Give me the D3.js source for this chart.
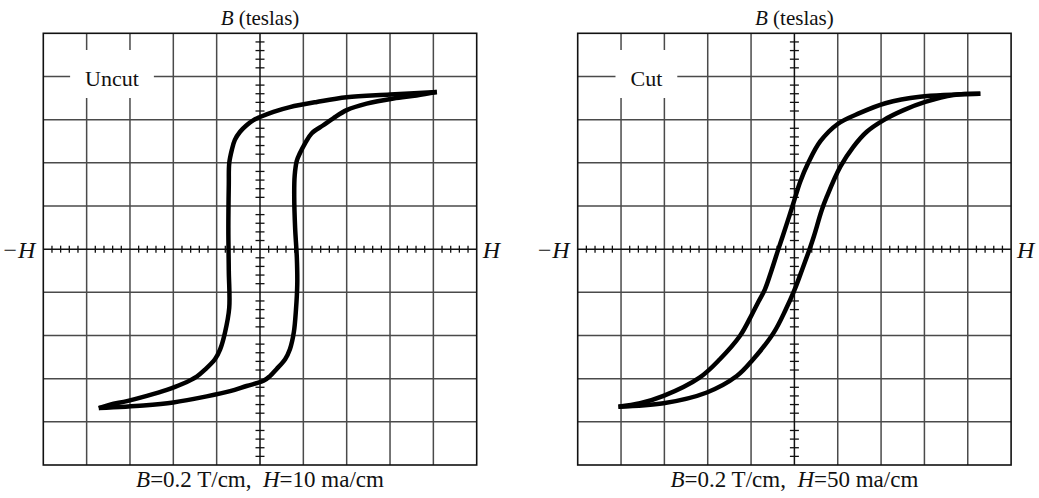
<!DOCTYPE html>
<html><head><meta charset="utf-8">
<script src="https://cdn.jsdelivr.net/npm/d3@7"></script>
<style>
body{margin:0;background:#fff}
svg{display:block}
text{font-family:"Liberation Serif","Times New Roman",serif;fill:#111}
</style>
</head><body>
<svg id="c" width="1039" height="498"></svg>
<script>
// ---- data (H in ma/cm, B in teslas) ----
const panelLabels = ["Uncut", "Cut"];
const hPerDivision = [10, 50];      // ma/cm per division
const bPerDivision = 0.2;           // T per division
const scaleLabels = ["H=10 ma/cm", "H=50 ma/cm"];

const uncutDescH = [40.8,30,20,13.1,6.9,3.1,0,-1.5,-3.1,-4.6,-5.8,-6.5,-7.1,-7.2,-7.3,-7.2,-7.1,-8.1,-9.2,-10.4,-12.7,-14.6,-18.1,-21.5,-26.1,-30.7,-34.6,-37.2];
const uncutDescB = [0.728,0.716,0.704,0.682,0.658,0.636,0.612,0.598,0.574,0.544,0.506,0.46,0.398,0.3,0.1,-0.1,-0.272,-0.388,-0.464,-0.51,-0.558,-0.59,-0.626,-0.652,-0.68,-0.704,-0.72,-0.736];
const uncutAscH = [-37.2,-26.9,-20,-12.3,-6.9,-3.1,0.8,2.3,3.8,5.8,6.9,7.8,8.3,8.6,8.5,8.1,7.9,8.0,8.5,9.2,10.4,11.9,14.6,16.9,20,24.6,30.8,36.1,40.8];
const uncutAscB = [-0.736,-0.724,-0.71,-0.682,-0.658,-0.634,-0.61,-0.588,-0.556,-0.51,-0.464,-0.386,-0.28,-0.16,-0.04,0.1,0.24,0.34,0.41,0.444,0.49,0.536,0.574,0.606,0.644,0.674,0.698,0.712,0.728];

const cutDescH = [214.5,145,105,75,50,30,16,6.5,0,-6,-13.5,-18.5,-26.5,-34,-41.5,-50,-62.5,-86,-109,-151,-178,-203];
const cutDescB = [0.72,0.706,0.676,0.63,0.58,0.5,0.4,0.31,0.228,0.152,0.06,0,-0.1,-0.186,-0.244,-0.31,-0.4,-0.51,-0.594,-0.68,-0.714,-0.73];
const cutAscH = [-203,-151,-101,-66.5,-47.5,-24,-10,0,9,17.5,22.5,31.5,37.5,53,68,83.5,103,126,151,183.5,214.5];
const cutAscB = [-0.73,-0.714,-0.664,-0.588,-0.51,-0.388,-0.28,-0.19,-0.094,0,0.06,0.18,0.244,0.382,0.474,0.544,0.598,0.644,0.682,0.714,0.72];

const branches = [
  [[uncutDescH, uncutDescB], [uncutAscH, uncutAscB]],
  [[cutDescH, cutDescB], [cutAscH, cutAscB]]
];

// ---- layout ----
const svg = d3.select("#c");
const frameLefts = [43.3, 577.7];
const frameW = 433.4, topY = 33.3, bottomY = 465;

frameLefts.forEach((x0, p) => {
  const hd = hPerDivision[p];
  const x = d3.scaleLinear().domain([-5*hd, 5*hd]).range([x0, x0 + frameW]);
  const y = d3.scaleLinear().domain([-5*bPerDivision, 5*bPerDivision]).range([bottomY, topY]);
  const g = svg.append("g");
  const majors = d3.range(-4, 5).filter(i => i !== 0);

  // grid
  g.selectAll(".gv").data(majors).enter().append("line")
    .attr("x1", i => x(i*hd)).attr("x2", i => x(i*hd)).attr("y1", topY).attr("y2", bottomY)
    .attr("stroke", "#4a4a4a").attr("stroke-width", 1.5);
  g.selectAll(".gh").data(majors).enter().append("line")
    .attr("y1", i => y(i*bPerDivision)).attr("y2", i => y(i*bPerDivision)).attr("x1", x0).attr("x2", x0 + frameW)
    .attr("stroke", "#4a4a4a").attr("stroke-width", 1.5);

  // axes
  g.append("line").attr("x1", x(0)).attr("x2", x(0)).attr("y1", topY).attr("y2", bottomY).attr("stroke", "#111").attr("stroke-width", 1.5);
  g.append("line").attr("x1", x0).attr("x2", x0 + frameW).attr("y1", y(0)).attr("y2", y(0)).attr("stroke", "#111").attr("stroke-width", 1.5);
  const minors = d3.range(-25, 26).filter(k => k % 5 !== 0).map(k => k / 5);
  g.selectAll(".th").data(minors).enter().append("line")
    .attr("x1", d => x(d*hd)).attr("x2", d => x(d*hd)).attr("y1", y(0) - 3.5).attr("y2", y(0) + 3.5)
    .attr("stroke", "#111").attr("stroke-width", 1.3);
  g.selectAll(".tv").data(minors).enter().append("line")
    .attr("y1", d => y(d*bPerDivision)).attr("y2", d => y(d*bPerDivision)).attr("x1", x(0) - 4.5).attr("x2", x(0) + 4.5)
    .attr("stroke", "#111").attr("stroke-width", 1.3);

  // frame
  g.append("rect").attr("x", x0).attr("y", topY).attr("width", frameW).attr("height", bottomY - topY)
    .attr("fill", "none").attr("stroke", "#111").attr("stroke-width", 1.6);

  // label box
  const labelCx = x(-5*hd + 1.585*hd);
  const lt = g.append("text").attr("x", labelCx).attr("y", 85.5).attr("text-anchor", "middle")
    .attr("font-size", 22).text(panelLabels[p]);
  const bb = lt.node().getBBox();
  g.insert("rect", "text").attr("x", bb.x - 15).attr("y", 50).attr("width", bb.width + 30).attr("height", 48).attr("fill", "#fff");

  // curves
  const line = d3.line().x(d => x(d[0])).y(d => y(d[1])).curve(d3.curveCatmullRom.alpha(0.5));
  branches[p].forEach(([hs, bs]) => {
    const pts = hs.map((h, i) => [h, bs[i]]);
    g.append("path").attr("d", line(pts)).attr("fill", "none").attr("stroke", "#000")
      .attr("stroke-width", 4.5).attr("stroke-linejoin", "round");
  });

  // texts
  const cx = x(0);
  const t1 = g.append("text").attr("x", cx).attr("y", 25).attr("text-anchor", "middle").attr("font-size", 21);
  t1.append("tspan").attr("font-style", "italic").text("B");
  t1.append("tspan").text(" (teslas)");

  g.append("text").attr("x", x0 - 8).attr("y", 257.5).attr("text-anchor", "end").attr("font-size", 24)
    .attr("font-style", "italic").text("\u2212H");
  g.append("text").attr("x", x0 + frameW + 6).attr("y", 257.5).attr("font-size", 24)
    .attr("font-style", "italic").text("H");

  const t2 = g.append("text").attr("x", cx).attr("y", 487).attr("text-anchor", "middle").attr("font-size", 23)
    .style("white-space", "pre");
  t2.append("tspan").attr("font-style", "italic").text("B");
  t2.append("tspan").text("=0.2 T/cm,  ");
  t2.append("tspan").attr("font-style", "italic").text("H");
  t2.append("tspan").text(scaleLabels[p].slice(1));
});
</script>
</body></html>
